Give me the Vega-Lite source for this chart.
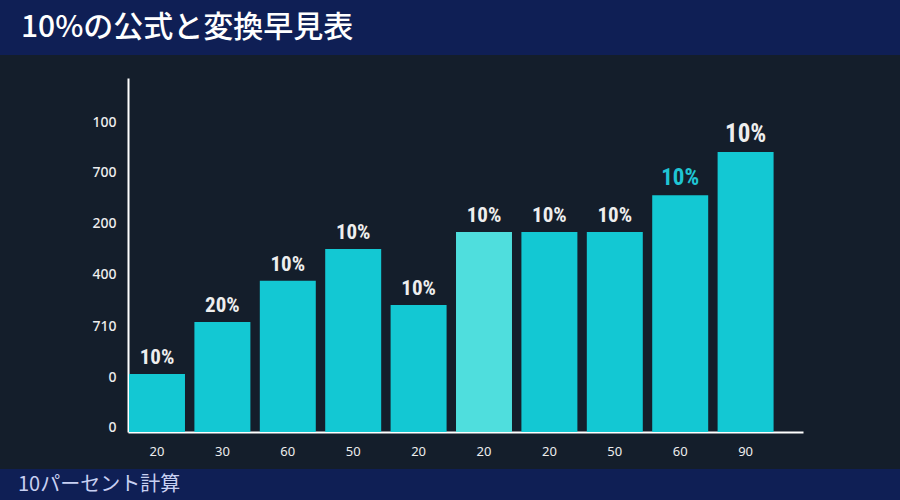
{
  "$schema": "https://vega.github.io/schema/vega-lite/v6.json",
  "background": "#141E2B",
  "padding": 0,
  "autosize": {"type": "pad"},
  "config": {"view": {"stroke": null}},
  "columns": 1,
  "align": "none",
  "spacing": {"row": 23, "column": 0},
  "concat": [
    {
      "width": 900,
      "height": 55,
      "view": {"fill": "#0F1F55", "stroke": null},
      "data": {"values": [{"t": "10%の公式と変換早見表"}]},
      "mark": {
        "type": "text",
        "align": "left",
        "baseline": "middle",
        "dx": 21,
        "fontSize": 30,
        "font": "Noto Sans CJK JP",
        "fontWeight": 500,
        "color": "#FFFFFF"
      },
      "encoding": {
        "x": {"datum": 0, "type": "quantitative", "scale": {"domain": [0, 1]}, "axis": null},
        "text": {"field": "t"}
      }
    },
    {
      "columns": 1,
      "align": "none",
      "spacing": {"row": 0, "column": 0},
      "concat": [
        {
          "width": 900,
          "height": 354,
          "data": {
            "values": [
              {"slot": "01_20", "value": 16.4, "pct": "10%", "shade": "bar", "tone": "label", "tier": "s"},
              {"slot": "02_30", "value": 31.1, "pct": "20%", "shade": "bar", "tone": "label", "tier": "s"},
              {"slot": "03_60", "value": 42.7, "pct": "10%", "shade": "bar", "tone": "label", "tier": "s"},
              {"slot": "04_50", "value": 51.7, "pct": "10%", "shade": "bar", "tone": "label", "tier": "s"},
              {"slot": "05_20", "value": 35.9, "pct": "10%", "shade": "bar", "tone": "label", "tier": "s"},
              {"slot": "06_20", "value": 56.5, "pct": "10%", "shade": "barLight", "tone": "label", "tier": "s"},
              {"slot": "07_20", "value": 56.5, "pct": "10%", "shade": "bar", "tone": "label", "tier": "s"},
              {"slot": "08_50", "value": 56.5, "pct": "10%", "shade": "bar", "tone": "label", "tier": "s"},
              {"slot": "09_60", "value": 66.9, "pct": "10%", "shade": "bar", "tone": "labelCyan", "tier": "m"},
              {"slot": "10_90", "value": 79.1, "pct": "10%", "shade": "bar", "tone": "label", "tier": "l"}
            ]
          },
          "encoding": {
            "x": {
              "field": "slot",
              "type": "nominal",
              "sort": null,
              "scale": {"range": [128, 803], "paddingInner": 0.144, "paddingOuter": 0.2325, "align": 0.033},
              "axis": {
                "title": null,
                "labelExpr": "split(datum.value, '_')[1]",
                "labelAngle": 0,
                "domainColor": "#FFFFFF",
                "domainWidth": 2,
                "ticks": false,
                "tickSize": 0,
                "labelColor": "#EDEDED",
                "labelFontSize": 13,
                "labelFont": "Noto Sans",
                "labelPadding": 13,
                "minExtent": 37,
                "maxExtent": 37
              }
            },
            "y": {
              "field": "value",
              "type": "quantitative",
              "scale": {"domain": [0, 100], "nice": false, "zero": true},
              "axis": {
                "title": null,
                "offset": -128,
                "values": [1.4, 15.5, 29.9, 44.4, 58.8, 73.2, 87.3],
                "labelExpr": "['0','0','710','400','200','700','100'][indexof([1.4, 15.5, 29.9, 44.4, 58.8, 73.2, 87.3], datum.value)]",
                "domainColor": "#FFFFFF",
                "domainWidth": 2,
                "ticks": false,
                "tickSize": 0,
                "grid": false,
                "labelColor": "#EDEDED",
                "labelFontSize": 14,
                "labelFont": "Noto Sans",
                "labelFontWeight": 500,
                "labelPadding": 12
              }
            },
            "color": {
              "field": "shade",
              "type": "nominal",
              "scale": {
                "domain": ["bar", "barLight", "label", "labelCyan"],
                "range": ["#13C8D3", "#4FDEDD", "#EEEEEE", "#1FC5D4"]
              },
              "legend": null
            }
          },
          "layer": [
            {"mark": {"type": "bar"}},
            {
              "mark": {
                "type": "text",
                "baseline": "alphabetic",
                "dy": -10,
                "fontWeight": "bold",
                "font": "Liberation Sans Narrow, Roboto Condensed, Roboto, sans-serif"
              },
              "encoding": {
                "text": {"field": "pct"},
                "color": {"field": "tone", "type": "nominal", "legend": null},
                "size": {
                  "field": "tier",
                  "type": "ordinal",
                  "scale": {"domain": ["s", "m", "l"], "range": [21, 25, 30]},
                  "legend": null
                }
              }
            }
          ]
        },
        {
          "width": 900,
          "height": 31,
          "view": {"fill": "#0F1F55", "stroke": null},
          "data": {"values": [{"t": "10パーセント計算"}]},
          "mark": {
            "type": "text",
            "align": "left",
            "baseline": "middle",
            "dx": 18,
            "fontSize": 20,
            "font": "Noto Sans CJK JP",
            "fontWeight": 400,
            "color": "#C8D0F2"
          },
          "encoding": {
            "x": {"datum": 0, "type": "quantitative", "scale": {"domain": [0, 1]}, "axis": null},
            "text": {"field": "t"}
          }
        }
      ]
    }
  ]
}
